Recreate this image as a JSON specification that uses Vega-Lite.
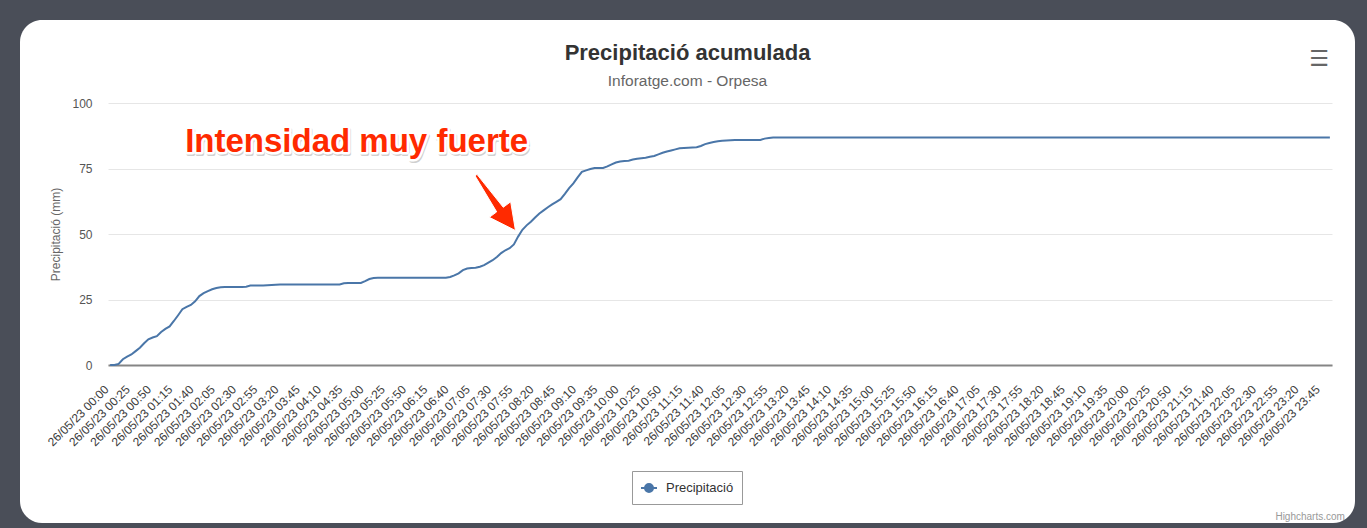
{
"$schema":"https://vega.github.io/schema/vega-lite/v6.json",
"width":1335,"height":503,
"autosize":{"type":"none"},
"padding":{"left":20,"top":20,"right":12,"bottom":5},
"background":"#4a4e58",
"config":{"view":{"fill":"#ffffff","stroke":null,"cornerRadius":22},"font":"Liberation Sans"},
"title":{"text":"Precipitació acumulada","subtitle":"Inforatge.com - Orpesa","anchor":"middle","frame":"group","fontSize":22,"fontWeight":"bold","color":"#333333","font":"Liberation Sans","subtitleFontSize":15.5,"subtitleColor":"#666666","subtitleFont":"Liberation Sans","subtitlePadding":9,"offset":-70},
"datasets":{"rain":[
{"t":"00:00","v":0},{"t":"00:05","v":0},{"t":"00:10","v":0.4},{"t":"00:15","v":2.2},{"t":"00:20","v":3.2},{"t":"00:25","v":4.0},{"t":"00:30","v":5.3},{"t":"00:35","v":6.6},{"t":"00:40","v":8.3},{"t":"00:45","v":9.8},{"t":"00:50","v":10.5},{"t":"00:55","v":11.0},
{"t":"01:00","v":12.6},{"t":"01:05","v":13.8},{"t":"01:10","v":14.7},{"t":"01:15","v":16.8},{"t":"01:20","v":19.0},{"t":"01:25","v":21.3},{"t":"01:30","v":22.2},{"t":"01:35","v":22.9},{"t":"01:40","v":24.3},{"t":"01:45","v":26.3},{"t":"01:50","v":27.4},{"t":"01:55","v":28.2},
{"t":"02:00","v":28.9},{"t":"02:05","v":29.4},{"t":"02:10","v":29.7},{"t":"02:15","v":29.8},{"t":"02:20","v":29.8},{"t":"02:25","v":29.8},{"t":"02:30","v":29.8},{"t":"02:35","v":29.8},{"t":"02:40","v":29.9},{"t":"02:45","v":30.3},{"t":"02:50","v":30.3},{"t":"02:55","v":30.3},
{"t":"03:00","v":30.3},{"t":"03:05","v":30.4},{"t":"03:10","v":30.5},{"t":"03:15","v":30.6},{"t":"03:20","v":30.7},{"t":"03:25","v":30.7},{"t":"03:30","v":30.7},{"t":"03:35","v":30.7},{"t":"03:40","v":30.7},{"t":"03:45","v":30.7},{"t":"03:50","v":30.7},{"t":"03:55","v":30.7},
{"t":"04:00","v":30.7},{"t":"04:05","v":30.7},{"t":"04:10","v":30.7},{"t":"04:15","v":30.7},{"t":"04:20","v":30.7},{"t":"04:25","v":30.7},{"t":"04:30","v":30.7},{"t":"04:35","v":31.2},{"t":"04:40","v":31.3},{"t":"04:45","v":31.3},{"t":"04:50","v":31.3},{"t":"04:55","v":31.3},
{"t":"05:00","v":32.0},{"t":"05:05","v":32.8},{"t":"05:10","v":33.2},{"t":"05:15","v":33.3},{"t":"05:20","v":33.3},{"t":"05:25","v":33.3},{"t":"05:30","v":33.3},{"t":"05:35","v":33.3},{"t":"05:40","v":33.3},{"t":"05:45","v":33.3},{"t":"05:50","v":33.3},{"t":"05:55","v":33.3},
{"t":"06:00","v":33.3},{"t":"06:05","v":33.3},{"t":"06:10","v":33.3},{"t":"06:15","v":33.3},{"t":"06:20","v":33.3},{"t":"06:25","v":33.3},{"t":"06:30","v":33.3},{"t":"06:35","v":33.3},{"t":"06:40","v":33.6},{"t":"06:45","v":34.2},{"t":"06:50","v":35.0},{"t":"06:55","v":36.2},
{"t":"07:00","v":36.8},{"t":"07:05","v":37.0},{"t":"07:10","v":37.1},{"t":"07:15","v":37.5},{"t":"07:20","v":38.1},{"t":"07:25","v":39.1},{"t":"07:30","v":40.0},{"t":"07:35","v":41.2},{"t":"07:40","v":42.7},{"t":"07:45","v":43.8},{"t":"07:50","v":44.6},{"t":"07:55","v":46.0},
{"t":"08:00","v":49.0},{"t":"08:05","v":51.6},{"t":"08:10","v":53.3},{"t":"08:15","v":54.7},{"t":"08:20","v":56.3},{"t":"08:25","v":57.8},{"t":"08:30","v":59.0},{"t":"08:35","v":60.2},{"t":"08:40","v":61.3},{"t":"08:45","v":62.3},{"t":"08:50","v":63.3},{"t":"08:55","v":65.3},
{"t":"09:00","v":67.5},{"t":"09:05","v":69.3},{"t":"09:10","v":71.6},{"t":"09:15","v":73.7},{"t":"09:20","v":74.3},{"t":"09:25","v":74.8},{"t":"09:30","v":75.2},{"t":"09:35","v":75.2},{"t":"09:40","v":75.2},{"t":"09:45","v":75.8},{"t":"09:50","v":76.6},{"t":"09:55","v":77.3},
{"t":"10:00","v":77.7},{"t":"10:05","v":77.9},{"t":"10:10","v":78.0},{"t":"10:15","v":78.4},{"t":"10:20","v":78.7},{"t":"10:25","v":78.9},{"t":"10:30","v":79.1},{"t":"10:35","v":79.5},{"t":"10:40","v":79.8},{"t":"10:45","v":80.4},{"t":"10:50","v":81.0},{"t":"10:55","v":81.5},
{"t":"11:00","v":81.9},{"t":"11:05","v":82.3},{"t":"11:10","v":82.7},{"t":"11:15","v":82.8},{"t":"11:20","v":82.9},{"t":"11:25","v":83.0},{"t":"11:30","v":83.1},{"t":"11:35","v":83.6},{"t":"11:40","v":84.3},{"t":"11:45","v":84.7},{"t":"11:50","v":85.1},{"t":"11:55","v":85.4},
{"t":"12:00","v":85.6},{"t":"12:05","v":85.7},{"t":"12:10","v":85.8},{"t":"12:15","v":85.9},{"t":"12:20","v":85.9},{"t":"12:25","v":85.9},{"t":"12:30","v":85.9},{"t":"12:35","v":85.9},{"t":"12:40","v":85.9},{"t":"12:45","v":85.9},{"t":"12:50","v":86.4},{"t":"12:55","v":86.6},
{"t":"13:00","v":86.8},{"t":"13:05","v":86.8},{"t":"13:10","v":86.8},{"t":"13:15","v":86.8},{"t":"13:20","v":86.8},{"t":"13:25","v":86.8},{"t":"13:30","v":86.8},{"t":"13:35","v":86.8},{"t":"13:40","v":86.8},{"t":"13:45","v":86.8},{"t":"13:50","v":86.8},{"t":"13:55","v":86.8},
{"t":"14:00","v":86.8},{"t":"14:05","v":86.8},{"t":"14:10","v":86.8},{"t":"14:15","v":86.8},{"t":"14:20","v":86.8},{"t":"14:25","v":86.8},{"t":"14:30","v":86.8},{"t":"14:35","v":86.8},{"t":"14:40","v":86.8},{"t":"14:45","v":86.8},{"t":"14:50","v":86.8},{"t":"14:55","v":86.8},
{"t":"15:00","v":86.8},{"t":"15:05","v":86.8},{"t":"15:10","v":86.8},{"t":"15:15","v":86.8},{"t":"15:20","v":86.8},{"t":"15:25","v":86.8},{"t":"15:30","v":86.8},{"t":"15:35","v":86.8},{"t":"15:40","v":86.8},{"t":"15:45","v":86.8},{"t":"15:50","v":86.8},{"t":"15:55","v":86.8},
{"t":"16:00","v":86.8},{"t":"16:05","v":86.8},{"t":"16:10","v":86.8},{"t":"16:15","v":86.8},{"t":"16:20","v":86.8},{"t":"16:25","v":86.8},{"t":"16:30","v":86.8},{"t":"16:35","v":86.8},{"t":"16:40","v":86.8},{"t":"16:45","v":86.8},{"t":"16:50","v":86.8},{"t":"16:55","v":86.8},
{"t":"17:00","v":86.8},{"t":"17:05","v":86.8},{"t":"17:10","v":86.8},{"t":"17:15","v":86.8},{"t":"17:20","v":86.8},{"t":"17:25","v":86.8},{"t":"17:30","v":86.8},{"t":"17:35","v":86.8},{"t":"17:40","v":86.8},{"t":"17:45","v":86.8},{"t":"17:50","v":86.8},{"t":"17:55","v":86.8},
{"t":"18:00","v":86.8},{"t":"18:05","v":86.8},{"t":"18:10","v":86.8},{"t":"18:15","v":86.8},{"t":"18:20","v":86.8},{"t":"18:25","v":86.8},{"t":"18:30","v":86.8},{"t":"18:35","v":86.8},{"t":"18:40","v":86.8},{"t":"18:45","v":86.8},{"t":"18:50","v":86.8},{"t":"18:55","v":86.8},
{"t":"19:00","v":86.8},{"t":"19:05","v":86.8},{"t":"19:10","v":86.8},{"t":"19:15","v":86.8},{"t":"19:20","v":86.8},{"t":"19:25","v":86.8},{"t":"19:30","v":86.8},{"t":"19:35","v":86.8},{"t":"19:40","v":86.8},{"t":"19:45","v":86.8},{"t":"19:50","v":86.8},{"t":"19:55","v":86.8},
{"t":"20:00","v":86.8},{"t":"20:05","v":86.8},{"t":"20:10","v":86.8},{"t":"20:15","v":86.8},{"t":"20:20","v":86.8},{"t":"20:25","v":86.8},{"t":"20:30","v":86.8},{"t":"20:35","v":86.8},{"t":"20:40","v":86.8},{"t":"20:45","v":86.8},{"t":"20:50","v":86.8},{"t":"20:55","v":86.8},
{"t":"21:00","v":86.8},{"t":"21:05","v":86.8},{"t":"21:10","v":86.8},{"t":"21:15","v":86.8},{"t":"21:20","v":86.8},{"t":"21:25","v":86.8},{"t":"21:30","v":86.8},{"t":"21:35","v":86.8},{"t":"21:40","v":86.8},{"t":"21:45","v":86.8},{"t":"21:50","v":86.8},{"t":"21:55","v":86.8},
{"t":"22:00","v":86.8},{"t":"22:05","v":86.8},{"t":"22:10","v":86.8},{"t":"22:15","v":86.8},{"t":"22:20","v":86.8},{"t":"22:25","v":86.8},{"t":"22:30","v":86.8},{"t":"22:35","v":86.8},{"t":"22:40","v":86.8},{"t":"22:45","v":86.8},{"t":"22:50","v":86.8},{"t":"22:55","v":86.8},
{"t":"23:00","v":86.8},{"t":"23:05","v":86.8},{"t":"23:10","v":86.8},{"t":"23:15","v":86.8},{"t":"23:20","v":86.8},{"t":"23:25","v":86.8},{"t":"23:30","v":86.8},{"t":"23:35","v":86.8},{"t":"23:40","v":86.8},{"t":"23:45","v":86.8},{"t":"23:50","v":86.8},{"t":"23:55","v":86.8}
],
"note":[{"t":"04:50","v":81.3,"label":"Intensidad muy fuerte"}],
"arrow":[{"t":"07:35","v":62.0}],
"menu":[{"t":"23:40","v":116.8,"label":"☰"}],
"credit":[{"t":"23:55","v":-59.2,"label":"Highcharts.com"}]
},
"encoding":{
  "x":{"field":"t","type":"ordinal","scale":{"type":"point","range":[88,1312],"padding":0.5},
   "axis":{"title":null,"values":["00:00","00:25","00:50","01:15","01:40","02:05","02:30","02:55","03:20","03:45","04:10","04:35","05:00","05:25","05:50","06:15","06:40","07:05","07:30","07:55","08:20","08:45","09:10","09:35","10:00","10:25","10:50","11:15","11:40","12:05","12:30","12:55","13:20","13:45","14:10","14:35","15:00","15:25","15:50","16:15","16:40","17:05","17:30","17:55","18:20","18:45","19:10","19:35","20:00","20:25","20:50","21:15","21:40","22:05","22:30","22:55","23:20","23:45"],
    "labelExpr":"'26/05/23 ' + datum.label","labelAngle":-45,"labelAlign":"right","labelBaseline":"middle","labelPadding":22,"labelOffset":-4,"labelFontSize":12,"labelColor":"#3a3a3a","labelOverlap":false,"ticks":false,"grid":false,"domainColor":"#858585","domainWidth":2,"offset":-158}},
  "y":{"field":"v","type":"quantitative","scale":{"domain":[0,100],"range":[345,83],"nice":false,"zero":true},
   "axis":{"title":"Precipitació (mm)","values":[0,25,50,75,100],"offset":-88,"domain":false,"ticks":false,"labelPadding":16,"labelFontSize":12,"labelColor":"#555555","gridColor":"#e6e6e6","gridWidth":1,"titleFontSize":12,"titleFontWeight":"normal","titleColor":"#666666","titleX":-53,"titleY":214,"titleAlign":"center","titleBaseline":"middle"}}
},
"layer":[
{"data":{"name":"rain"},
 "mark":{"type":"line","strokeWidth":2,"interpolate":"linear"},
 "encoding":{
  "color":{"datum":"Precipitació","type":"nominal","scale":{"range":["#4a76a8"]},
   "legend":{"title":null,"orient":"none","legendX":612,"legendY":451,"direction":"horizontal","padding":8,"strokeColor":"#999999","fillColor":"#ffffff","cornerRadius":0,"symbolType":"M-1,0L1,0M0.5,0A0.5,0.5 0 1 1 -0.5,0A0.5,0.5 0 1 1 0.5,0","symbolSize":256,"symbolStrokeWidth":2,"symbolStrokeColor":"#4a76a8","symbolFillColor":"#4a76a8","labelFontSize":13,"labelColor":"#333333","labelOffset":8,
    "encode":{"symbols":{"update":{"fill":{"value":"#4a76a8"},"stroke":{"value":"#4a76a8"},"strokeWidth":{"value":2}}}}}}
 }},
{"data":{"name":"note"},
 "mark":{"type":"text","font":"Liberation Sans","fontSize":33,"fontWeight":"bold","align":"center","baseline":"alphabetic","fill":"#000000","opacity":0.18,"stroke":"#000000","strokeWidth":4,"strokeJoin":"round","dx":1,"dy":2},
 "encoding":{"text":{"field":"label"}}},
{"data":{"name":"note"},
 "mark":{"type":"text","font":"Liberation Sans","fontSize":33,"fontWeight":"bold","align":"center","baseline":"alphabetic","fill":"#ffffff","stroke":"#ffffff","strokeWidth":5,"strokeJoin":"round"},
 "encoding":{"text":{"field":"label"}}},
{"data":{"name":"note"},
 "mark":{"type":"text","font":"Liberation Sans","fontSize":33,"fontWeight":"bold","align":"center","baseline":"alphabetic","fill":"#ff2a00"},
 "encoding":{"text":{"field":"label"}}},
{"data":{"name":"arrow"},
 "mark":{"type":"point","shape":"M-0.73,-0.893L-0.007,0.31L-0.253,0.493L0.62,0.933L0.46,-0.027L0.213,0.157L-0.663,-0.94Z","size":3600,"filled":true,"fill":"#ff2a00","opacity":1,"stroke":"#ffffff","strokeWidth":1},
 "encoding":{}},
{"data":{"name":"menu"},
 "mark":{"type":"text","font":"DejaVu Sans","fontSize":22,"fontWeight":"bold","align":"center","baseline":"middle","fill":"#666666","dx":2},
 "encoding":{"text":{"field":"label"}}},
{"data":{"name":"credit"},
 "mark":{"type":"text","fontSize":10,"align":"right","baseline":"alphabetic","fill":"#999999","dx":15},
 "encoding":{"text":{"field":"label"}}}
]
}
